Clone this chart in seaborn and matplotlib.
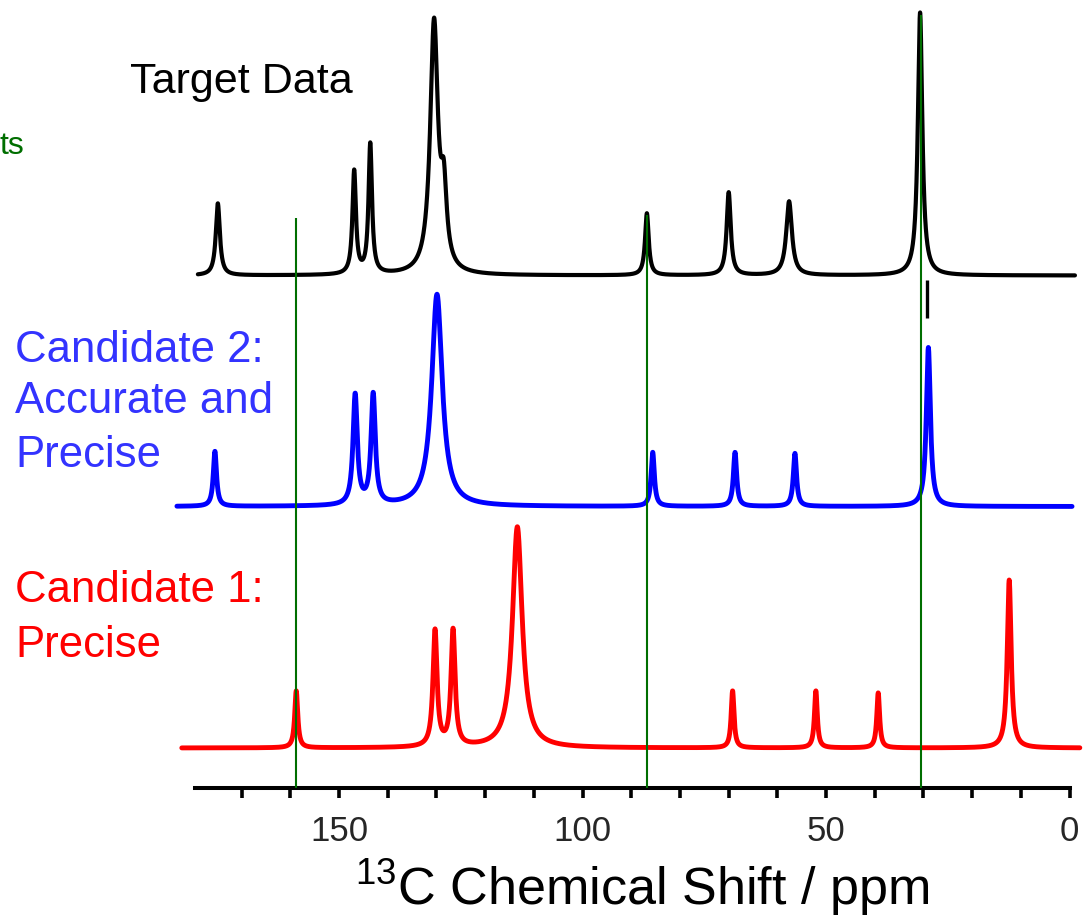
import numpy as np
import pandas as pd
import seaborn as sns
import matplotlib.pyplot as plt
from matplotlib.ticker import MultipleLocator, FuncFormatter

# ---- peak lists: chemical shift (ppm), peak height, full width at half max (ppm)
target_ppm = [174.9, 146.9, 143.6, 130.5, 128.5, 86.8, 70.0, 57.6, 30.7]
target_height = [72, 103, 130, 250, 70, 62, 83, 74, 263]
target_fwhm = [1.0, 0.85, 0.85, 1.9, 1.4, 0.9, 1.0, 1.4, 1.1]

cand2_ppm = [175.5, 146.7, 143.0, 129.9, 85.6, 68.7, 56.4, 29.0]
cand2_height = [55, 110, 110, 212, 54, 54, 53, 159]
cand2_fwhm = [0.8, 1.05, 1.05, 2.6, 0.8, 0.8, 0.8, 1.0]

cand1_ppm = [158.8, 130.3, 126.6, 113.4, 69.2, 52.1, 39.3, 12.4]
cand1_height = [57, 116, 116, 221, 57, 57, 55, 168]
cand1_fwhm = [0.75, 1.0, 1.0, 2.4, 0.7, 0.7, 0.7, 0.95]

# reference shift markers
ref_ppm = [158.8, 86.7, 30.6]
ref_top = [569.5, 572.5, 772.5]

# vertical offsets of the stacked spectra and their ppm ranges
offsets = {"Target": 512.0, "Candidate 2": 281.0, "Candidate 1": 39.5}
ranges = {"Target": (179.0, -1.1), "Candidate 2": (183.3, -0.5), "Candidate 1": (182.3, -2.1)}
colors = {"Target": "black", "Candidate 2": "#0000ff", "Candidate 1": "#ff0000"}
widths = {"Target": 3.0, "Candidate 2": 3.5, "Candidate 1": 3.5}

tick_values = [150, 100, 50, 0]

sns.set_theme(style="white")
font = "Liberation Sans"
plt.rcParams["font.family"] = [font, "DejaVu Sans"]
plt.rcParams["mathtext.fontset"] = "custom"
plt.rcParams["mathtext.rm"] = font


def spectrum(ppm_lo_hi, centers, heights, fwhms, offset):
    hi, lo = ppm_lo_hi
    x = np.linspace(hi, lo, 6000)
    y = np.full_like(x, offset)
    for c, h, w in zip(centers, heights, fwhms):
        g = w / 2.0
        y += h * g * g / ((x - c) ** 2 + g * g)
    return pd.DataFrame({"ppm": x, "intensity": y})


frames = {
    "Target": spectrum(ranges["Target"], target_ppm, target_height, target_fwhm, offsets["Target"]),
    "Candidate 2": spectrum(ranges["Candidate 2"], cand2_ppm, cand2_height, cand2_fwhm, offsets["Candidate 2"]),
    "Candidate 1": spectrum(ranges["Candidate 1"], cand1_ppm, cand1_height, cand1_fwhm, offsets["Candidate 1"]),
}

W, H = 1084, 918
fig = plt.figure(figsize=(W / 100, H / 100), dpi=100)
fig.patch.set_facecolor("white")


def px2ppm(px):
    return (1069.6 - px) / 4.87


ax = fig.add_axes([195 / W, (H - 787.5) / H, (1070 - 195) / W, 787.5 / H])
ax.set_facecolor("none")

for name, df in frames.items():
    sns.lineplot(data=df, x="ppm", y="intensity", ax=ax, color=colors[name],
                 linewidth=widths[name], sort=False, estimator=None,
                 clip_on=False, zorder=2)

ax.vlines(ref_ppm, 0, ref_top, colors="#006e00", linewidth=1.5, zorder=5, clip_on=False)
ax.vlines([29.3], 469.5, 507.5, colors="black", linewidth=2.4, zorder=3)

ax.set_xlim(px2ppm(195), px2ppm(1070))
ax.set_ylim(0, 787.5)
ax.set_xlabel("")
ax.set_ylabel("")
ax.set_yticks([])

for side in ("left", "right", "top"):
    ax.spines[side].set_visible(False)
ax.spines["bottom"].set_linewidth(2.9)
ax.spines["bottom"].set_color("black")

ax.xaxis.set_major_locator(MultipleLocator(10))
ax.xaxis.set_major_formatter(FuncFormatter(lambda v, p: f"{v:.0f}" if round(v) in tick_values else ""))
ax.tick_params(axis="x", direction="out", length=7, width=2.6, color="black",
               labelsize=25, pad=13, bottom=True)
for lab in ax.get_xticklabels():
    lab.set_fontfamily(font)

# annotation text
def ftext(x, y, s, size, color, ha="left"):
    fig.text(x / W, 1 - y / H, s, fontsize=size, color=color, ha=ha, va="baseline", family=font)

ftext(130, 93.3, "Target Data", 31, "black")
ftext(0, 154, "ts", 23, "#006e00")
for s, y in zip(["Candidate 2:", "Accurate and", "Precise"], [361.7, 413.3, 466.7]):
    ftext(15, y, s, 31.5, "#3333ff")
for s, y in zip(["Candidate 1:", "Precise"], [602.5, 656.7]):
    ftext(15, y, s, 31.5, "#ff0000")

ftext(642, 905, r"$^{\mathrm{13}}$C Chemical Shift / ppm", 37.5, "black", ha="center")

fig.savefig("out.png", dpi=100, facecolor="white")
